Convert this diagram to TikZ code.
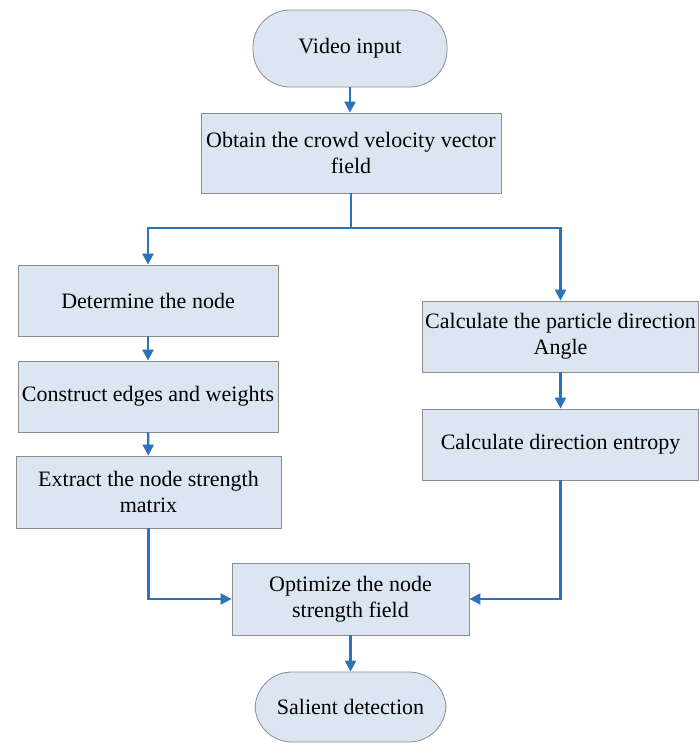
\documentclass[tikz,border=0pt]{standalone}
\usepackage{fontspec}
\setmainfont{Liberation Serif}
\usetikzlibrary{arrows.meta}

\definecolor{boxfill}{HTML}{DCE6F2}
\definecolor{boxline}{HTML}{8C8C8C}
\definecolor{flowblue}{HTML}{2A72BC}

\begin{document}
\begin{tikzpicture}[%
        > = {Triangle[length=11pt, width=11pt]},
        x = 1pt, y = -1pt,
        every node/.style = {font=\fontsize{22}{26}\selectfont, align=center},
        stepbox/.style = {draw=boxline, fill=boxfill, line width=0.8pt, inner sep=0pt},
        terminal/.style = {stepbox, rounded corners=37pt},
        flow/.style = {->, draw=flowblue, line width=2.3pt}
    ]

        % Fix the size of the picture.
        \useasboundingbox (0, 0) rectangle (699, 745);

        % Start and end of the chart.
        \node[terminal, minimum width=194pt, minimum height=77pt] (vin) at (350, 48.5) {Video input};
        \node[terminal, minimum width=191pt, minimum height=70pt] (sal) at (350.5, 707) {Salient detection};

        % Boxes of the main column.
        \node[stepbox, minimum width=300pt, minimum height=80pt] (obtain) at (351, 153)
            {Obtain the crowd velocity vector\\field};
        \node[stepbox, minimum width=237pt, minimum height=72pt] (opt) at (350.5, 599)
            {Optimize the node\\strength field};

        % Boxes of the left branch.
        \node[stepbox, minimum width=260pt, minimum height=71pt] (det) at (148, 300.5) {Determine the node};
        \node[stepbox, minimum width=260pt, minimum height=71pt] (con) at (148, 396.5) {Construct edges and weights};
        \node[stepbox, minimum width=265pt, minimum height=72pt] (ext) at (148.5, 492)
            {Extract the node strength\\matrix};

        % Boxes of the right branch.
        \node[stepbox, minimum width=276pt, minimum height=71pt] (part) at (560.5, 336.5)
            {Calculate the particle direction\\Angle};
        \node[stepbox, minimum width=276pt, minimum height=71pt] (ent) at (560.5, 444.5)
            {Calculate direction entropy};

        % Split point under the first box.
        \coordinate (split) at (351, 228);

        % Connect the boxes.
        \draw[flow] (vin) to (vin |- obtain.north);
        \draw[flow, -] (obtain) to (split);
        \draw[flow] (split) -| (det.north);
        \draw[flow] (split) -| (part.north);
        \draw[flow] (det) to (con);
        \draw[flow] (con) to (ext);
        \draw[flow] (part) to (ent);
        \draw[flow] (ext.south) |- (opt.west);
        \draw[flow] (ent.south) |- (opt.east);
        \draw[flow] (opt) to (opt |- sal.north);
    \end{tikzpicture}
\end{document}
